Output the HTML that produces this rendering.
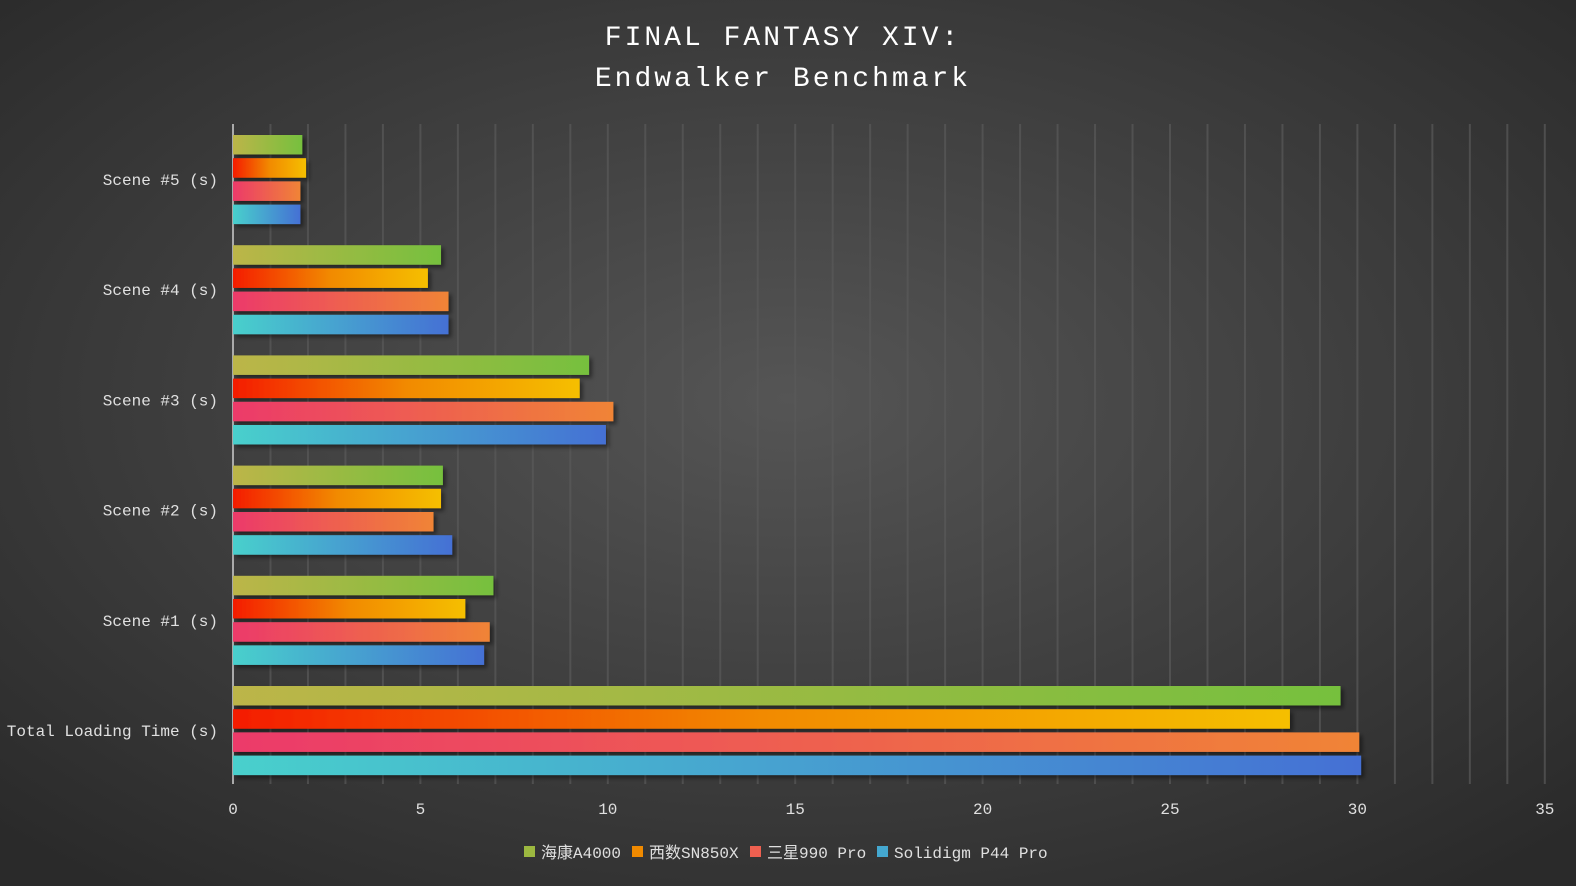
<!DOCTYPE html>
<html><head><meta charset="utf-8"><style>
html,body{margin:0;padding:0;width:1576px;height:886px;overflow:hidden;background:#333}
svg{display:block}
text{font-family:"Liberation Mono","Noto Sans CJK SC",monospace}
</style></head><body>
<svg width="1576" height="886" viewBox="0 0 1576 886">
<defs>
<radialGradient id="bg" cx="50%" cy="45%" r="70%">
<stop offset="0" stop-color="#555"/><stop offset="1" stop-color="#2a2a2a"/>
</radialGradient>
<linearGradient id="g1" x1="0" y1="0" x2="1" y2="0"><stop offset="0" stop-color="#bcb548"/><stop offset="1" stop-color="#76c03e"/></linearGradient>
<linearGradient id="g2" x1="0" y1="0" x2="1" y2="0"><stop offset="0" stop-color="#f41c02"/><stop offset="0.5" stop-color="#f28a00"/><stop offset="1" stop-color="#f5bf00"/></linearGradient>
<linearGradient id="g3" x1="0" y1="0" x2="1" y2="0"><stop offset="0" stop-color="#ec3a6a"/><stop offset="1" stop-color="#f08436"/></linearGradient>
<linearGradient id="g4" x1="0" y1="0" x2="1" y2="0"><stop offset="0" stop-color="#48d0cc"/><stop offset="1" stop-color="#4470d4"/></linearGradient>
<filter id="sh" x="-5%" y="-30%" width="115%" height="180%"><feDropShadow dx="3" dy="3" stdDeviation="2" flood-color="#000" flood-opacity="0.45"/></filter>
</defs>
<rect width="1576" height="886" fill="url(#bg)"/>
<g stroke="#5a5a5a" stroke-opacity="0.7" stroke-width="2" id="grid"></g>
<line x1="233" y1="124" x2="233" y2="784" stroke="#aaa" stroke-width="2"/>
<text x="783" y="45" fill="#fff" font-size="28" text-anchor="middle" letter-spacing="3">FINAL FANTASY XIV:</text>
<text x="783" y="86" fill="#fff" font-size="28" text-anchor="middle" letter-spacing="3">Endwalker Benchmark</text>
<g id="bars" filter="url(#sh)"></g>
<g fill="#e0e0e0" font-size="16" text-anchor="end" id="lab"></g>
<g fill="#e0e0e0" font-size="16" text-anchor="middle" id="tick"></g>
<g font-size="16" fill="#e0e0e0">
<rect x="524" y="846" width="11" height="11" fill="#9cb840"/><text x="541" y="858">海康A4000</text>
<rect x="632" y="846" width="11" height="11" fill="#f08a00"/><text x="649" y="858">西数SN850X</text>
<rect x="750" y="846" width="11" height="11" fill="#ee6050"/><text x="767" y="858">三星990 Pro</text>
<rect x="877" y="846" width="11" height="11" fill="#44a8d0"/><text x="894" y="858">Solidigm P44 Pro</text>
</g>
</svg>
<script>
const ns="http://www.w3.org/2000/svg",u=37.48,x0=233;
function el(p,t,a,txt){const e=document.createElementNS(ns,t);for(const k in a)e.setAttribute(k,a[k]);if(txt)e.textContent=txt;document.getElementById(p).appendChild(e);}
for(let i=1;i<=35;i++){el("grid","line",{x1:x0+i*u,x2:x0+i*u,y1:124,y2:784});}
for(let i=0;i<=35;i+=5)el("tick","text",{x:x0+i*u,y:814},String(i));
const data=[["Scene #5 (s)",[1.85,1.95,1.8,1.8]],["Scene #4 (s)",[5.55,5.2,5.75,5.75]],["Scene #3 (s)",[9.5,9.25,10.15,9.95]],["Scene #2 (s)",[5.6,5.55,5.35,5.85]],["Scene #1 (s)",[6.95,6.2,6.85,6.7]],["Total Loading Time (s)",[29.55,28.2,30.05,30.1]]];
data.forEach((d,gi)=>{const y=135+gi*110.2;el("lab","text",{x:218,y:y+50},d[0]);
d[1].forEach((v,j)=>el("bars","rect",{x:x0,y:y+j*23.2,width:v*u,height:19.5,fill:"url(#g"+(j+1)+")"}));});
</script>
</body></html>
